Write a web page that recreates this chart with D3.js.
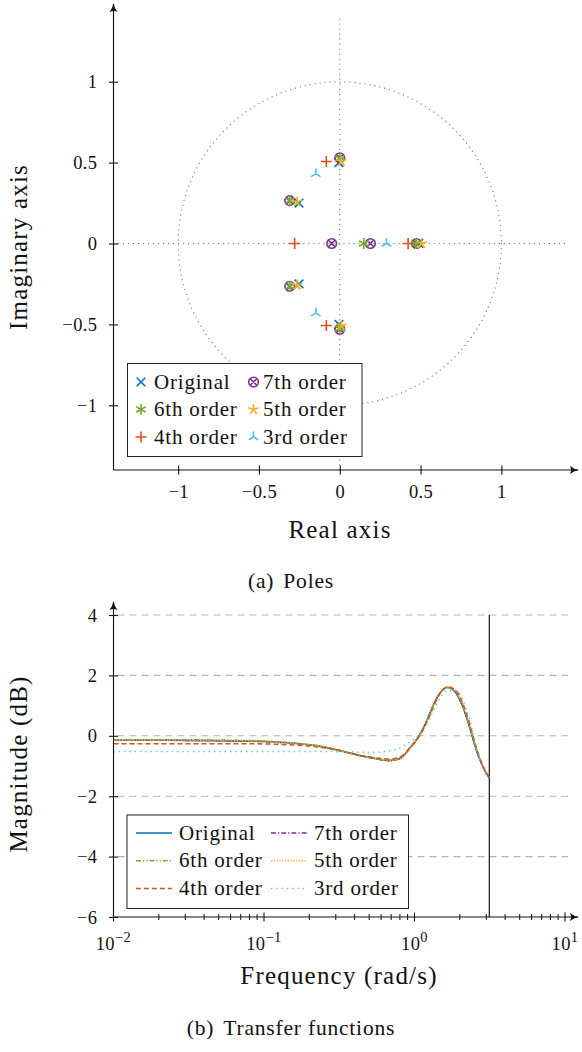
<!DOCTYPE html>
<html>
<head>
<meta charset="utf-8">
<script src="https://cdn.jsdelivr.net/npm/d3@7"></script>
<style>
  body { margin: 0; background: #fff; }
  svg { display: block; }
  text { font-family: "Liberation Serif", "Times New Roman", serif; fill: #111; }
</style>
</head>
<body>
<svg id="chart" width="582" height="1052"></svg>
<script>
// ---- data ----
const seriesNames = ["Original", "7th order", "6th order", "5th order", "4th order", "3rd order"];
const seriesColors = ["#0072BD", "#7E2F8E", "#77AC30", "#EDB120", "#D95319", "#4DBEEE"];

// poles, [real, imag]
const polesOriginal = [[-0.005, 0.50], [-0.005, -0.50], [-0.252, 0.25], [-0.252, -0.25], [0.49, 0]];
const poles7 = [[0, 0.53], [0, -0.53], [-0.31, 0.265], [-0.31, -0.265], [-0.05, 0], [0.19, 0], [0.475, 0]];
const poles6 = [[0, 0.525], [0, -0.525], [-0.31, 0.265], [-0.31, -0.265], [0.149, 0], [0.47, 0]];
const poles5 = [[0.01, 0.508], [0.01, -0.508], [-0.264, 0.257], [-0.264, -0.257], [0.506, 0]];
const poles4 = [[-0.083, 0.507], [-0.083, -0.507], [-0.279, 0], [0.423, 0]];
const poles3 = [[-0.148, 0.43], [-0.148, -0.43], [0.289, 0]];
const poleSets = [polesOriginal, poles7, poles6, poles5, poles4, poles3];
const markerTypes = ["times", "otimes", "asterisk", "star", "plus", "tri"];

const poleTicks = [-1, -0.5, 0, 0.5, 1];

// magnitude responses (dB) vs frequency (rad/s)
const freq = [0.01, 0.02, 0.05, 0.1, 0.15, 0.2, 0.25, 0.32, 0.41, 0.53, 0.68, 0.8, 0.93, 1.08, 1.2, 1.32, 1.47, 1.66, 1.89, 2.09, 2.32, 2.57, 2.84, 3.14];
const magOriginal = [-0.15, -0.15, -0.16, -0.19, -0.24, -0.30, -0.37, -0.49, -0.63, -0.74, -0.82, -0.75, -0.41, 0.03, 0.47, 0.97, 1.41, 1.60, 1.41, 0.97, 0.30, -0.46, -1.02, -1.40];
const mag7 = [-0.15, -0.15, -0.16, -0.19, -0.24, -0.30, -0.37, -0.49, -0.63, -0.74, -0.82, -0.75, -0.42, 0.02, 0.46, 0.96, 1.40, 1.61, 1.42, 0.98, 0.31, -0.45, -1.01, -1.40];
const mag6 = [-0.13, -0.13, -0.14, -0.17, -0.23, -0.29, -0.36, -0.48, -0.62, -0.74, -0.82, -0.76, -0.42, 0.02, 0.46, 0.96, 1.40, 1.60, 1.42, 0.98, 0.32, -0.44, -1.00, -1.38];
const mag5 = [-0.15, -0.15, -0.16, -0.19, -0.24, -0.30, -0.37, -0.49, -0.62, -0.73, -0.81, -0.75, -0.43, 0.00, 0.43, 0.93, 1.38, 1.62, 1.46, 1.03, 0.36, -0.42, -1.00, -1.39];
const mag4 = [-0.26, -0.26, -0.26, -0.27, -0.30, -0.34, -0.40, -0.50, -0.62, -0.72, -0.77, -0.70, -0.40, 0.00, 0.42, 0.90, 1.38, 1.62, 1.50, 1.08, 0.42, -0.38, -0.98, -1.38];
const mag3 = [-0.52, -0.52, -0.52, -0.52, -0.52, -0.52, -0.52, -0.53, -0.54, -0.55, -0.50, -0.40, -0.20, 0.05, 0.38, 0.78, 1.22, 1.50, 1.50, 1.18, 0.55, -0.35, -1.02, -1.47];
const magSets = [magOriginal, mag7, mag6, mag5, mag4, mag3];
const dashes = [null, "5,2,1.2,2", "5,2,1.2,2,1.2,2", "1.2,1.6", "5,3", "1.3,4"];

const magTicks = [-6, -4, -2, 0, 2, 4];
const gridTicks = [-4, -2, 0, 2, 4];
const decadeTicks = [0.01, 0.1, 1, 10];
const decadeExp = ["−2", "−1", "0", "1"];
const nyquist = Math.PI;

const svg = d3.select("#chart");

// arrow head for axis lines
svg.append("defs").append("marker")
  .attr("id", "arr")
  .attr("viewBox", "0 -5 10 10")
  .attr("refX", 9).attr("refY", 0)
  .attr("markerWidth", 9).attr("markerHeight", 9)
  .attr("markerUnits", "userSpaceOnUse")
  .attr("orient", "auto")
  .append("path")
  .attr("d", "M0,-4.5 Q4,-1 10,0 Q4,1 0,4.5 Q2.5,0 0,-4.5Z")
  .attr("fill", "#111");

function markerPath(type, r) {
  const p = d3.path();
  if (type === "times" || type === "otimes") {
    const s = type === "otimes" ? r * 0.62 : r * 0.78;
    p.moveTo(-s, -s); p.lineTo(s, s);
    p.moveTo(-s, s); p.lineTo(s, -s);
    if (type === "otimes") { p.moveTo(r, 0); p.arc(0, 0, r, 0, 2 * Math.PI); }
  } else if (type === "plus") {
    p.moveTo(-r, 0); p.lineTo(r, 0);
    p.moveTo(0, -r); p.lineTo(0, r);
  } else if (type === "asterisk") {
    [90, 30, -30].forEach(a => {
      const t = a * Math.PI / 180;
      p.moveTo(-r * Math.cos(t), r * Math.sin(t));
      p.lineTo(r * Math.cos(t), -r * Math.sin(t));
    });
  } else if (type === "star") {
    for (let i = 0; i < 5; i++) {
      const t = (90 + i * 72) * Math.PI / 180;
      p.moveTo(0, 0); p.lineTo(r * Math.cos(t), -r * Math.sin(t));
    }
  } else if (type === "tri") {
    [90, 210, 330].forEach(a => {
      const t = a * Math.PI / 180;
      p.moveTo(0, 0); p.lineTo(r * Math.cos(t), -r * Math.sin(t));
    });
  }
  return p.toString();
}

const tickFont = sel => sel.style("font-size", "18.5px").style("letter-spacing", "0.4px");
const labelFont = sel => sel.style("font-size", "25px").style("letter-spacing", "1.2px");
const legendFont = sel => sel.style("font-size", "21px").style("letter-spacing", "0.8px");
const captionFont = sel => sel.style("font-size", "21.5px").style("letter-spacing", "0.8px");

// ================= (a) Poles =================
const xP = d3.scaleLinear().domain([-1.4, 1.4]).range([113.5, 566]);
const yP = d3.scaleLinear().domain([-1.4, 1.4]).range([470, 17]);
const gA = svg.append("g");

const dotted = sel => sel.attr("fill", "none").attr("stroke", "#7a7a7a")
  .attr("stroke-width", 1.3).attr("stroke-linecap", "round").attr("stroke-dasharray", "0.01,5");

gA.append("circle").attr("cx", xP(0)).attr("cy", yP(0)).attr("r", xP(1) - xP(0)).call(dotted);
gA.append("line").attr("x1", xP(-1.4)).attr("x2", xP(1.4)).attr("y1", yP(0)).attr("y2", yP(0)).call(dotted);
gA.append("line").attr("x1", xP(0)).attr("x2", xP(0)).attr("y1", yP(-1.4)).attr("y2", yP(1.4)).call(dotted);

poleSets.forEach((set, i) => {
  gA.append("g").selectAll("path").data(set).join("path")
    .attr("transform", d => `translate(${xP(d[0])},${yP(d[1])})`)
    .attr("d", markerPath(markerTypes[i], markerTypes[i] === "otimes" ? 4.8 : 5.5))
    .attr("fill", "none").attr("stroke", seriesColors[i]).attr("stroke-width", 1.6);
});

// axes
const axA = gA.append("g").attr("stroke", "#111").attr("stroke-width", 1.1);
axA.append("line").attr("x1", 113.5).attr("y1", 470).attr("x2", 578).attr("y2", 470).attr("marker-end", "url(#arr)");
axA.append("line").attr("x1", 113.5).attr("y1", 470).attr("x2", 113.5).attr("y2", 4).attr("marker-end", "url(#arr)");

const fmt = d3.format("");
gA.append("g").attr("transform", "translate(0,470)")
  .call(d3.axisBottom(xP).tickValues(poleTicks).tickFormat(fmt).tickSizeOuter(0))
  .call(g => g.select(".domain").remove())
  .call(g => g.selectAll(".tick line").attr("y1", -4.5).attr("y2", 4.5).attr("stroke", "#111").attr("stroke-width", 1.1))
  .call(g => g.selectAll(".tick text").attr("y", 28).attr("dy", 0).call(tickFont));
gA.append("g").attr("transform", "translate(113.5,0)")
  .call(d3.axisLeft(yP).tickValues(poleTicks).tickFormat(fmt).tickSizeOuter(0))
  .call(g => g.select(".domain").remove())
  .call(g => g.selectAll(".tick line").attr("x1", -4.5).attr("x2", 4.5).attr("stroke", "#111").attr("stroke-width", 1.1))
  .call(g => g.selectAll(".tick text").attr("x", -16).attr("dy", "0.33em").call(tickFont));

gA.append("text").attr("x", 340).attr("y", 538).attr("text-anchor", "middle")
  .call(labelFont).text("Real axis");
gA.append("text").attr("transform", "translate(27,247) rotate(-90)").attr("text-anchor", "middle")
  .call(labelFont).text("Imaginary axis");

// legend (a)
const legA = gA.append("g");
legA.append("rect").attr("x", 127.5).attr("y", 363.5).attr("width", 234.5).attr("height", 93)
  .attr("fill", "#fff").attr("stroke", "#222").attr("stroke-width", 1);
seriesNames.forEach((name, i) => {
  const col = i % 2, row = Math.floor(i / 2);
  const cx = col === 0 ? 141 : 253.5, cy = 382 + row * 27.5;
  legA.append("path").attr("transform", `translate(${cx},${cy})`)
    .attr("d", markerPath(markerTypes[i], markerTypes[i] === "otimes" ? 4.8 : 5.5))
    .attr("fill", "none").attr("stroke", seriesColors[i]).attr("stroke-width", 1.6);
  legA.append("text").attr("x", col === 0 ? 154 : 263).attr("y", cy + 6.5)
    .call(legendFont).text(name);
});

const capA = svg.append("text").attr("x", 291).attr("y", 588).attr("text-anchor", "middle").call(captionFont);
capA.append("tspan").text("(a)");
capA.append("tspan").attr("dx", 9).text("Poles");

// ================= (b) Transfer functions =================
const xL = d3.scaleLog().domain([0.01, 10]).range([113.5, 565]);
const yL = d3.scaleLinear().domain([-6, 4]).range([917, 615]);
const gB = svg.append("g");

gB.append("g").selectAll("line").data(gridTicks).join("line")
  .attr("x1", xL(0.01) + 4).attr("x2", xL(10) + 3)
  .attr("y1", d => yL(d)).attr("y2", d => yL(d))
  .attr("stroke", "#b5b5b5").attr("stroke-width", 1.1).attr("stroke-dasharray", "7,5");

gB.append("line").attr("x1", xL(nyquist)).attr("x2", xL(nyquist))
  .attr("y1", yL(-6)).attr("y2", yL(4)).attr("stroke", "#111").attr("stroke-width", 1.2);

const line = d3.line().x((d, i) => xL(freq[i])).y(d => yL(d)).curve(d3.curveMonotoneX);
magSets.forEach((vals, i) => {
  gB.append("path").datum(vals).attr("d", line)
    .attr("fill", "none").attr("stroke", seriesColors[i]).attr("stroke-width", 1.5)
    .attr("stroke-dasharray", dashes[i]);
});

const axB = gB.append("g").attr("stroke", "#111").attr("stroke-width", 1.1);
axB.append("line").attr("x1", 113.5).attr("y1", 917).attr("x2", 578).attr("y2", 917).attr("marker-end", "url(#arr)");
axB.append("line").attr("x1", 113.5).attr("y1", 917).attr("x2", 113.5).attr("y2", 602).attr("marker-end", "url(#arr)");

// log x ticks
const minorTicks = xL.ticks().filter(t => !decadeTicks.includes(t));
gB.append("g").selectAll("line").data(minorTicks).join("line")
  .attr("x1", d => xL(d)).attr("x2", d => xL(d)).attr("y1", 914).attr("y2", 920)
  .attr("stroke", "#111").attr("stroke-width", 1);
gB.append("g").selectAll("line").data(decadeTicks).join("line")
  .attr("x1", d => xL(d)).attr("x2", d => xL(d)).attr("y1", 912.5).attr("y2", 921.5)
  .attr("stroke", "#111").attr("stroke-width", 1.1);
const xLab = gB.append("g").selectAll("text").data(decadeTicks).join("text")
  .attr("x", d => xL(d)).attr("y", 950).attr("text-anchor", "middle").call(tickFont);
xLab.append("tspan").text("10");
xLab.append("tspan").attr("dy", -8).style("font-size", "14.5px").text((d, i) => decadeExp[i]);

gB.append("g").attr("transform", "translate(113.5,0)")
  .call(d3.axisLeft(yL).tickValues(magTicks).tickFormat(fmt).tickSizeOuter(0))
  .call(g => g.select(".domain").remove())
  .call(g => g.selectAll(".tick line").attr("x1", -4.5).attr("x2", 4.5).attr("stroke", "#111").attr("stroke-width", 1.1))
  .call(g => g.selectAll(".tick text").attr("x", -16).attr("dy", "0.33em").call(tickFont));

gB.append("text").attr("x", 339).attr("y", 984).attr("text-anchor", "middle")
  .call(labelFont).text("Frequency (rad/s)");
gB.append("text").attr("transform", "translate(27,764) rotate(-90)").attr("text-anchor", "middle")
  .call(labelFont).text("Magnitude (dB)");

// legend (b)
const legB = gB.append("g");
legB.append("rect").attr("x", 127).attr("y", 815).attr("width", 281.5).attr("height", 93.5)
  .attr("fill", "#fff").attr("stroke", "#222").attr("stroke-width", 1);
seriesNames.forEach((name, i) => {
  const col = i % 2, row = Math.floor(i / 2);
  const x0 = col === 0 ? 136 : 271, cy = 833 + row * 27.8;
  legB.append("line").attr("x1", x0).attr("x2", x0 + 36).attr("y1", cy).attr("y2", cy)
    .attr("stroke", seriesColors[i]).attr("stroke-width", 1.5).attr("stroke-dasharray", dashes[i]);
  legB.append("text").attr("x", col === 0 ? 179 : 314).attr("y", cy + 6.5)
    .call(legendFont).text(name);
});

const capB = svg.append("text").attr("x", 291).attr("y", 1035).attr("text-anchor", "middle").call(captionFont);
capB.append("tspan").text("(b)");
capB.append("tspan").attr("dx", 9).text("Transfer functions");
</script>
</body>
</html>
